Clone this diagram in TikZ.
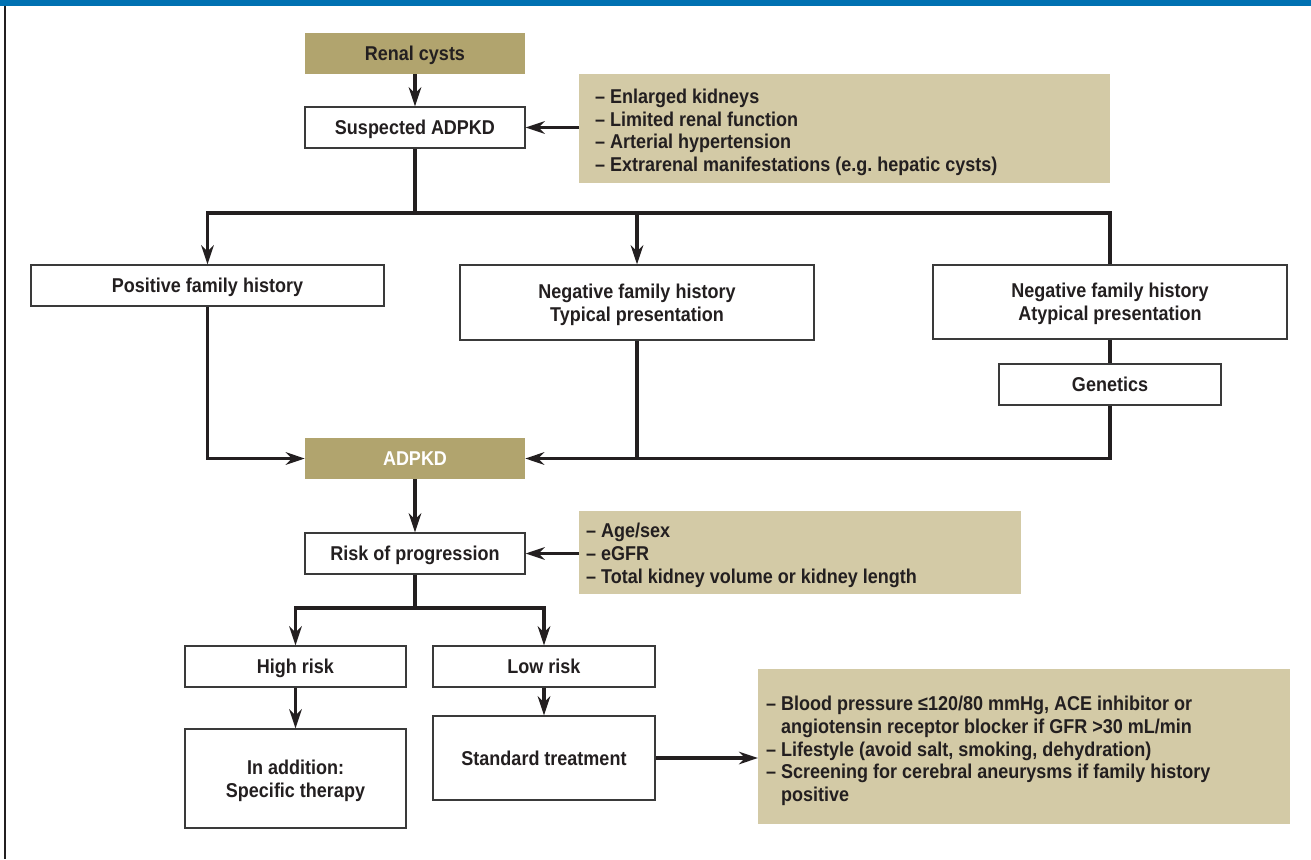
\documentclass[tikz,border=0pt]{standalone}
\usepackage{fontspec}
\setmainfont{Liberation Sans}[FakeStretch=0.90, UprightFont=* Bold, BoldFont=* Bold]
\usetikzlibrary{arrows.meta}
\definecolor{olive}{HTML}{B1A46E}
\definecolor{lightolive}{HTML}{D3CAA6}
\definecolor{topblue}{HTML}{0071B2}
\definecolor{ink}{HTML}{231F20}
\definecolor{frame}{HTML}{3A3A3A}
\frenchspacing
\begin{document}
\begin{tikzpicture}[x=1pt,y=-1pt,
  every node/.style={font=\fontsize{20}{22.7}\selectfont, text=ink, inner sep=0pt},
  whitebox/.style={draw=frame, line width=1.3pt, fill=white, align=center, text depth=0pt},
  darkbox/.style={fill=olive, align=center, text depth=0pt},
  infobox/.style={fill=lightolive, align=left, anchor=north west},
  conn/.style={draw=ink, line width=3.5pt},
  branch/.style={conn, line cap=rect},
  arr/.style={conn, -{Stealth[length=19pt,width=12.5pt,inset=6pt]}}]
\useasboundingbox (0,0) rectangle (1311,859);
\fill[topblue] (0,0) rectangle (1311,6);
\draw[ink, line width=2pt] (5,6) -- (5,859);

% boxes
\node[darkbox, minimum width=220pt, minimum height=41pt] (cysts) at (415,53.5) {Renal cysts};
\node[whitebox, minimum width=220pt, minimum height=41pt] (susp) at (415,127.5) {Suspected ADPKD};
\node[infobox, minimum width=531pt, minimum height=109pt] (info1) at (579,74) {};
\node[anchor=west, align=left] (info1t) at (595,132.5) {– Enlarged kidneys\\– Limited renal function\\– Arterial hypertension\\– Extrarenal manifestations (e.g. hepatic cysts)};

\node[whitebox, minimum width=353pt, minimum height=41pt] (pos) at (207.5,285.5) {Positive family history};
\node[whitebox, minimum width=354pt, minimum height=75pt] (typ) at (637,302.5) {Negative family history\\Typical presentation};
\node[whitebox, minimum width=354pt, minimum height=74pt] (atyp) at (1110,302) {Negative family history\\Atypical presentation};
\node[whitebox, minimum width=222pt, minimum height=41pt] (gen) at (1110,384.5) {Genetics};

\node[darkbox, minimum width=220pt, minimum height=41pt, text=white] (adpkd) at (415,458.5) {ADPKD};
\node[whitebox, minimum width=220pt, minimum height=41pt] (risk) at (415,553.5) {Risk of progression};
\node[infobox, minimum width=442pt, minimum height=83pt] (info2) at (579,511) {};
\node[anchor=west, align=left] (info2t) at (586,555.5) {– Age/sex\\– eGFR\\– Total kidney volume or kidney length};

\node[whitebox, minimum width=221pt, minimum height=41pt] (high) at (295.5,666.5) {High risk};
\node[whitebox, minimum width=222pt, minimum height=41pt] (low) at (544,666.5) {Low risk};
\node[whitebox, minimum width=221pt, minimum height=99pt] (spec) at (295.5,778.5) {In addition:\\Specific therapy};
\node[whitebox, minimum width=222pt, minimum height=84pt] (std) at (544,758) {Standard treatment};
\node[infobox, minimum width=532pt, minimum height=155pt] (info3) at (758,669) {};
\node[anchor=west, align=left] (info3t) at (766,751) {– Blood pressure ≤120/80 mmHg, ACE inhibitor or\\\phantom{– }angiotensin receptor blocker if GFR >30 mL/min\\– Lifestyle (avoid salt, smoking, dehydration)\\– Screening for cerebral aneurysms if family history\\\phantom{– }positive};

% connectors
\draw[arr] (cysts.south) -- (susp.north);
\draw[arr] (info1.west |- susp.east) -- (susp.east);
\coordinate (j1) at (415,213);
\draw[conn] (susp.south) -- (j1);
\draw[branch] (pos.north |- j1) -- (atyp.north |- j1);
\draw[arr] (pos.north |- j1) -- (pos.north);
\draw[arr] (typ.north |- j1) -- (typ.north);
\draw[conn] (atyp.north |- j1) -- (atyp.north);
\draw[conn] (atyp.south) -- (gen.north);
\draw[arr] (pos.south) |- (adpkd.west);
\draw[arr] (gen.south) |- (adpkd.east);
\draw[conn] (typ.south) -- (typ.south |- adpkd.east);
\draw[arr] (adpkd.south) -- (risk.north);
\draw[arr] (info2.west |- risk.east) -- (risk.east);
\coordinate (j2) at (415,608);
\draw[conn] (risk.south) -- (j2);
\draw[branch] (high.north |- j2) -- (low.north |- j2);
\draw[arr] (high.north |- j2) -- (high.north);
\draw[arr] (low.north |- j2) -- (low.north);
\draw[arr] (high.south) -- (spec.north);
\draw[arr] (low.south) -- (std.north);
\draw[arr] (std.east) -- (info3.west |- std.east);
\end{tikzpicture}
\end{document}
